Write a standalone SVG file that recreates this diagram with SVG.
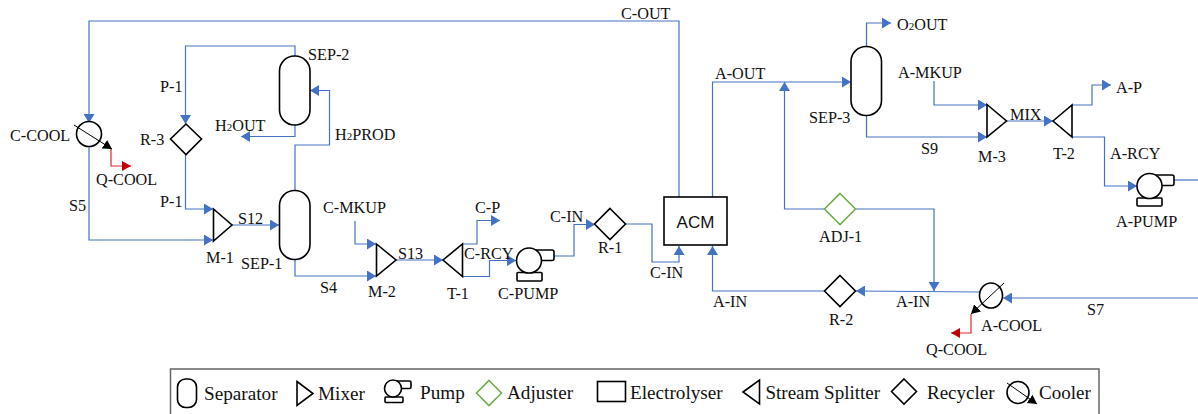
<svg xmlns="http://www.w3.org/2000/svg" width="1198" height="414" viewBox="0 0 1198 414">
<style>
text{font-family:"Liberation Serif","Times New Roman",serif;font-size:16.2px;fill:#111}
.leg{font-size:19.2px}
.sub{font-size:11px}
.acm{font-family:"Liberation Sans",Arial,sans-serif;font-size:17px;text-anchor:middle}
.s{fill:#fff;stroke:#000;stroke-width:1.6}
.o{fill:none;stroke:#000;stroke-width:1.6}
.g{fill:#fff;stroke:#70ad47;stroke-width:1.6}
.c{fill:none;stroke:#4472c4;stroke-width:1.2}
.r{fill:none;stroke:#e0262b;stroke-width:1.2}
.k{fill:none;stroke:#000;stroke-width:1}
</style>
<defs>
<marker id="ab" markerUnits="userSpaceOnUse" markerWidth="10" markerHeight="11" refX="9" refY="5.5" orient="auto"><path d="M0 0L9 5.5L0 11Z" fill="#4472c4"/></marker>
<marker id="ar" markerUnits="userSpaceOnUse" markerWidth="10" markerHeight="11" refX="9" refY="5" orient="auto"><path d="M0 0L9 5L0 10Z" fill="#c00000"/></marker>
<marker id="ak" markerUnits="userSpaceOnUse" markerWidth="10" markerHeight="11" refX="9" refY="5" orient="auto"><path d="M0 0L9 5L0 10Z" fill="#000"/></marker>
</defs>
<g id="connectors">
<path class="c" marker-end="url(#ab)" d="M679 197V21H89V123"/>
<path class="c" marker-end="url(#ab)" d="M89 146V240H213"/>
<path class="c" marker-end="url(#ab)" d="M295 56V46H185.500V124"/>
<path class="c" marker-end="url(#ab)" d="M185.500 154V209H213"/>
<path class="c" marker-end="url(#ab)" d="M232 225H279"/>
<path class="c" marker-end="url(#ab)" d="M295 190V145H329.500V90.500H310"/>
<path class="c" marker-end="url(#ab)" d="M295 125V136.500H241"/>
<path class="c" marker-end="url(#ab)" d="M295 259V276H376"/>
<path class="c" marker-end="url(#ab)" d="M355 221V244H376"/>
<path class="c" marker-end="url(#ab)" d="M396 260H443"/>
<path class="c" marker-end="url(#ab)" d="M463 244H477V220.500H500"/>
<path class="c" marker-end="url(#ab)" d="M463 276.500H489.500V260.500H516"/>
<path class="c" marker-end="url(#ab)" d="M554 256H574V224.500H595"/>
<path class="c" marker-end="url(#ab)" d="M625 224H652V262H679V246"/>
<path class="c" marker-end="url(#ab)" d="M825 291H712.500V246"/>
<path class="c" marker-end="url(#ab)" d="M712.500 197V82H851"/>
<path class="c" marker-end="url(#ab)" d="M825 209H784.500V82"/>
<path class="c" marker-end="url(#ab)" d="M855 209H934V291"/>
<path class="c" marker-end="url(#ab)" d="M980 292L856 291"/>
<path class="c" marker-end="url(#ab)" d="M1198 298H1003"/>
<path class="c" marker-end="url(#ab)" d="M866.500 46V23H891"/>
<path class="c" marker-end="url(#ab)" d="M866.500 116V137H987"/>
<path class="c" marker-end="url(#ab)" d="M934 81V105H987"/>
<path class="c" marker-end="url(#ab)" d="M1006.500 121H1053"/>
<path class="c" marker-end="url(#ab)" d="M1072 105H1092V85H1111"/>
<path class="c" marker-end="url(#ab)" d="M1072 137H1104.500V186H1137"/>
<path class="c" d="M1174 180H1198"/>
<path class="r" marker-end="url(#ar)" d="M111 149V166H131"/>
<path class="r" marker-end="url(#ar)" d="M971 314V333H951"/>
</g>
<g id="C-COOL"><circle class="s" cx="89" cy="134" r="12.500"/><path class="k" marker-end="url(#ak)" d="M74 125L112 149"/><text x="10" y="140.500">C-COOL</text></g>
<g id="Q-COOL-1"><text x="96" y="184.500">Q-COOL</text></g>
<g id="R-3"><path class="s" d="M186 124L201.500 139L186 154.500L170.500 139Z"/><text x="140" y="144.500">R-3</text></g>
<g id="SEP-2"><rect class="s" x="279.500" y="56" width="30.500" height="69" rx="15"/><text x="308" y="59.500">SEP-2</text></g>
<g id="SEP-1"><rect class="s" x="279.500" y="190.500" width="30.500" height="69" rx="15"/><text x="241" y="268.500">SEP-1</text></g>
<g id="M-1"><path class="s" d="M213.500 209L232 225L213.500 241Z"/><text x="206" y="262.500">M-1</text></g>
<g id="M-2"><path class="s" d="M376.500 244L396 260L376.500 276Z"/><text x="368" y="296.500">M-2</text></g>
<g id="T-1"><path class="s" d="M443 260L462.500 244V276.500Z"/><text x="447" y="298.500">T-1</text></g>
<g id="C-PUMP"><rect class="s" x="525" y="250" width="29" height="10.500" rx="2"/><rect class="s" x="517" y="272.500" width="25" height="8.500" rx="1"/><circle class="s" cx="529" cy="260.500" r="12.500"/><text x="498" y="298.500">C-PUMP</text></g>
<g id="R-1"><path class="s" d="M610 208.500L625.500 224L610 239.500L594.500 224Z"/><text x="598" y="252.500">R-1</text></g>
<g id="ACM"><rect class="s" x="664" y="197" width="63" height="48"/><text class="acm" x="695.500" y="228">ACM</text></g>
<g id="SEP-3"><rect class="s" x="851" y="46.500" width="30.500" height="69" rx="15"/><text x="809" y="122.500">SEP-3</text></g>
<g id="M-3"><path class="s" d="M987 104.500L1006.500 121L987 137Z"/><text x="978" y="161.500">M-3</text></g>
<g id="T-2"><path class="s" d="M1053 121L1072 105V137Z"/><text x="1053" y="158.500">T-2</text></g>
<g id="A-PUMP"><rect class="s" x="1145" y="175" width="29" height="10.500" rx="2"/><rect class="s" x="1137" y="198" width="25" height="8" rx="1"/><circle class="s" cx="1149.500" cy="186" r="12.500"/><text x="1116" y="226.500">A-PUMP</text></g>
<g id="ADJ-1"><path class="g" d="M840 193.500L855.500 209L840 224.500L824.500 209Z"/><text x="819" y="241.500">ADJ-1</text></g>
<g id="R-2"><path class="s" d="M840 275.500L855.500 291L840 306.500L824.500 291Z"/><text x="829" y="324.500">R-2</text></g>
<g id="A-COOL"><ellipse class="s" cx="991" cy="295.500" rx="11.500" ry="12.500"/><path class="k" marker-end="url(#ak)" d="M1004 283L971 314"/><text x="981" y="330.500">A-COOL</text></g>
<g id="labels">
<text x="621" y="18.500">C-OUT</text>
<text x="160" y="91.500">P-1</text>
<text x="160" y="206.500">P-1</text>
<text x="215" y="130.500">H<tspan class="sub">2</tspan>OUT</text>
<text x="335" y="139.500">H<tspan class="sub">2</tspan>PROD</text>
<text x="69" y="210.500">S5</text>
<text x="238" y="223.500">S12</text>
<text x="323" y="212.500">C-MKUP</text>
<text x="320" y="292.500">S4</text>
<text x="398" y="258.500">S13</text>
<text x="475" y="212.500">C-P</text>
<text x="464" y="258.500">C-RCY</text>
<text x="550" y="221.500">C-IN</text>
<text x="650" y="277.500">C-IN</text>
<text x="713" y="306.500">A-IN</text>
<text x="715" y="78.500">A-OUT</text>
<text x="897" y="29.500">O<tspan class="sub">2</tspan>OUT</text>
<text x="898" y="77.500">A-MKUP</text>
<text x="1116" y="92.500">A-P</text>
<text x="1010" y="119.500">MIX</text>
<text x="921" y="153.500">S9</text>
<text x="1110" y="158.500">A-RCY</text>
<text x="896" y="306.500">A-IN</text>
<text x="1087" y="314.500">S7</text>
<text x="926" y="354.500">Q-COOL</text>
</g>
<g id="legend">
<rect x="170.500" y="369" width="928.500" height="50" fill="#fff" stroke="#666" stroke-width="1.500"/>
<rect class="o" x="177.500" y="379" width="19" height="28.500" rx="8"/><text class="leg" x="204" y="400">Separator</text>
<path class="o" d="M297 381.500L313 393.500L297 405.500Z"/><text class="leg" x="318" y="400">Mixer</text>
<rect class="o" x="393" y="381" width="18" height="7.500" rx="1.500"/><rect class="o" x="385" y="397" width="18" height="5.500" rx="1"/><circle class="s" cx="393" cy="388.500" r="8.500"/><text class="leg" x="420" y="399">Pump</text>
<path class="g" d="M489 380.500L501.500 393L489 405.500L476.500 393Z"/><text class="leg" x="507" y="399">Adjuster</text>
<rect class="o" x="597.500" y="381.500" width="28" height="20"/><text class="leg" x="630" y="399">Electrolyser</text>
<path class="o" d="M743 392L759.500 380V404Z"/><text class="leg" x="765.500" y="399" style="font-size:19px">Stream Splitter</text>
<path class="o" d="M904 379L916.500 391.500L904 404L891.500 391.500Z"/><text class="leg" x="927" y="399" style="font-size:19px">Recycler</text>
<circle class="o" cx="1018" cy="392.500" r="11"/><path class="k" marker-end="url(#ak)" d="M1007 383L1037 404"/><text class="leg" x="1039" y="399" style="font-size:19px">Cooler</text>
</g>
</svg>
